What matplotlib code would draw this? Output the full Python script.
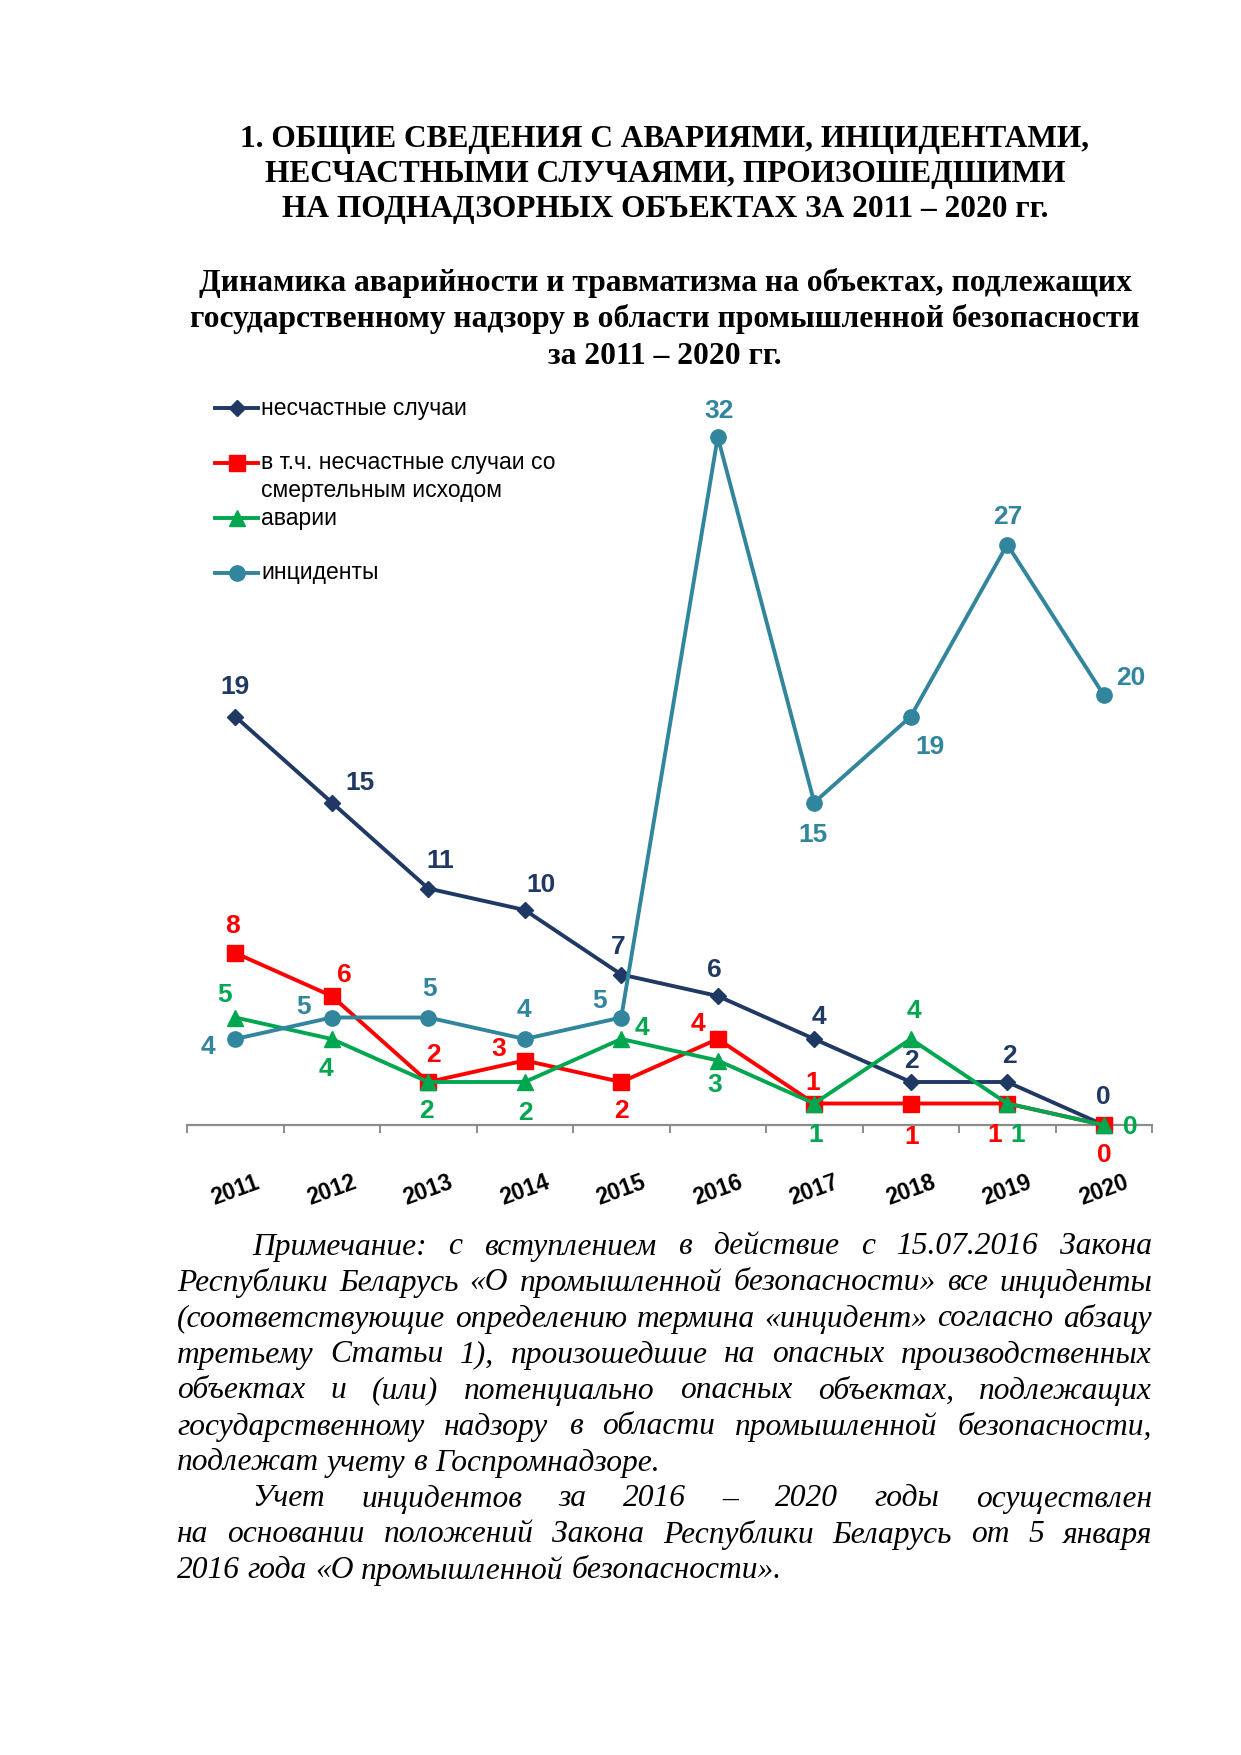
import numpy as np
import matplotlib
matplotlib.use("Agg")
import matplotlib.pyplot as plt
from matplotlib.lines import Line2D

# ---------------- data ----------------
years = ["2011", "2012", "2013", "2014", "2015", "2016", "2017", "2018", "2019", "2020"]
accidents_people = [19, 15, 11, 10, 7, 6, 4, 2, 2, 0]      # несчастные случаи
fatal = [8, 6, 2, 3, 2, 4, 1, 1, 1, 0]                      # со смертельным исходом
breakdowns = [5, 4, 2, 2, 4, 3, 1, 4, 1, 0]                 # аварии
incidents = [4, 5, 5, 4, 5, 32, 15, 19, 27, 20]             # инциденты

series_names = ["несчастные случаи",
                "в т.ч. несчастные случаи со\nсмертельным исходом",
                "аварии",
                "инциденты"]

# label offsets (pixels) – styling only
off_people = [(0, 30), (28, 20), (12, 27), (16, 25), (-3, 28), (-3, 26), (5, 22), (1, 21), (2, 26), (0, 28)]
off_fatal = [(-3, 27), (13, 21), (5, 27), (-26, 12), (0, -29), (-20, 15), (-2, 20), (1, -34), (-13, -31), (1, -30)]
off_break = [(-11, 23), (-6, -30), (-2, -29), (1, -31), (21, 11), (-3, -24), (1, -32), (3, 28), (10, -31), (27, -2)]
off_inc = [(-27, -8), (-28, 11), (1, 28), (-1, 29), (-22, 17), (1, 26), (-1, -32), (19, -30), (1, 28), (27, 17)]

W, H = 1241, 1755
fig = plt.figure(figsize=(W / 100, H / 100), dpi=100)
fig.patch.set_facecolor("white")

sans = ["Liberation Sans", "DejaVu Sans"]
serif = ["Liberation Serif", "DejaVu Serif"]

def fx(px):
    return px / W

def fy(py):
    return 1 - py / H

# ---------------- titles ----------------
title_lines = ["1. ОБЩИЕ СВЕДЕНИЯ С АВАРИЯМИ, ИНЦИДЕНТАМИ,",
               "НЕСЧАСТНЫМИ СЛУЧАЯМИ, ПРОИЗОШЕДШИМИ",
               "НА ПОДНАДЗОРНЫХ ОБЪЕКТАХ ЗА 2011 – 2020 гг."]
for i, t in enumerate(title_lines):
    fig.text(fx(665), fy(139 + 35.5 * i), t, ha="center", va="center",
             family=serif, fontweight="bold", fontsize=22.6)

sub_lines = ["Динамика аварийности и травматизма на объектах, подлежащих",
             "государственному надзору в области промышленной безопасности",
             "за 2011 – 2020 гг."]
for i, t in enumerate(sub_lines):
    fig.text(fx(665), fy(283 + 36.5 * i), t, ha="center", va="center",
             family=serif, fontweight="bold", fontsize=22.7)

# ---------------- chart ----------------
ax_left, ax_right, ax_zero, px_per_unit = 187, 1152, 1125, 21.5
ymax = 36
ax = fig.add_axes([fx(ax_left), (H - ax_zero) / H, (ax_right - ax_left) / W, ymax * px_per_unit / H])
ax.set_xlim(-0.5, len(years) - 0.5)
ax.set_ylim(0, ymax)
ax.patch.set_alpha(0)
for s in ["top", "right", "left"]:
    ax.spines[s].set_visible(False)
ax.spines["bottom"].set_color("#8c8c8c")
ax.spines["bottom"].set_linewidth(1.6)
ax.set_yticks([])

x = np.arange(len(years))
ax.set_xticks(np.arange(-0.5, len(years), 1.0))
ax.set_xticklabels([])
ax.tick_params(axis="x", which="major", length=6, width=1.4, color="#8c8c8c", direction="out")
ax.set_xticks(x, labels=years, minor=True)
ax.tick_params(axis="x", which="minor", length=0, pad=47)
for lab in ax.get_xticklabels(minor=True):
    lab.set_rotation(20)
    lab.set_rotation_mode("anchor")
    lab.set_ha("center")
    lab.set_va("center")
    lab.set_fontsize(16.5)
    lab.set_fontweight("bold")
    lab.set_family(sans)

c_navy = "#1F3864"
c_red = "#FF0000"
c_green = "#00A650"
c_teal = "#31859C"

specs = [
    (accidents_people, c_navy, "D", 8.5, off_people),
    (fatal, c_red, "s", 11, off_fatal),
    (breakdowns, c_green, "^", 11, off_break),
    (incidents, c_teal, "o", 11, off_inc),
]
lw = 2.8
order = [3, 0, 1, 2]
for k in order:
    vals, col, mk, ms, offs = specs[k]
    ax.plot(x, vals, color=col, lw=lw, marker=mk, markersize=ms, clip_on=False, zorder=3 + k)
for k in range(4):
    vals, col, mk, ms, offs = specs[k]
    for xi, v, (dx, dy) in zip(x, vals, offs):
        ax.annotate(str(v), (xi, v), xytext=(dx, dy), textcoords="offset pixels",
                    ha="center", va="center", color=col, fontsize=19,
                    fontweight="bold", family=sans, annotation_clip=False)

# ---------------- legend (manual) ----------------
leg_y = [408, 463, 518, 573]
for k in range(4):
    vals, col, mk, ms, offs = specs[k]
    yy = fy(leg_y[k])
    fig.add_artist(Line2D([fx(215), fx(258)], [yy, yy], color=col, lw=lw,
                          transform=fig.transFigure))
    fig.add_artist(Line2D([fx(236.5)], [yy], color=col, marker=mk, markersize=ms,
                          transform=fig.transFigure))
    lines = series_names[k].split("\n")
    for j, t in enumerate(lines):
        fig.text(fx(261), fy(leg_y[k] + 27 * j), t, ha="left", va="center",
                 family=sans, fontsize=16.5, color="black")

# ---------------- justified note ----------------
note_lines = [
    ("Примечание: с вступлением в действие с 15.07.2016 Закона", True, False),
    ("Республики Беларусь «О промышленной безопасности» все инциденты", False, False),
    ("(соответствующие определению термина «инцидент» согласно абзацу", False, False),
    ("третьему Статьи 1), произошедшие на опасных производственных", False, False),
    ("объектах и (или) потенциально опасных объектах, подлежащих", False, False),
    ("государственному надзору в области промышленной безопасности,", False, False),
    ("подлежат учету в Госпромнадзоре.", False, True),
    ("Учет инцидентов за 2016 – 2020 годы осуществлен", True, False),
    ("на основании положений Закона Республики Беларусь от 5 января", False, False),
    ("2016 года «О промышленной безопасности».", False, True),
]
left_px, right_px, indent_px = 177, 1152, 252
renderer = fig.canvas.get_renderer()
note_fs = 22.7
tmp1 = fig.text(0, 0, "a a", family=serif, style="italic", fontsize=note_fs)
tmp2 = fig.text(0, 0, "aa", family=serif, style="italic", fontsize=note_fs)
sw = tmp1.get_window_extent(renderer).width - tmp2.get_window_extent(renderer).width
tmp1.remove(); tmp2.remove()
for i, (line, indent, last) in enumerate(note_lines):
    ypx = 1247 + 36 * i
    words = line.split(" ")
    start = indent_px if indent else left_px
    fs = note_fs
    while True:
        texts = [fig.text(0, fy(ypx), w, ha="left", va="center", family=serif,
                          style="italic", fontsize=fs) for w in words]
        widths = [t.get_window_extent(renderer).width for t in texts]
        if last or sum(widths) + 0.6 * sw * (len(words) - 1) <= right_px - start:
            break
        for t in texts:
            t.remove()
        fs -= 0.3
    if last or len(words) == 1:
        gap = sw
    else:
        gap = (right_px - start - sum(widths)) / (len(words) - 1)
    pos = start
    for t, wdt in zip(texts, widths):
        t.set_x(fx(pos))
        pos += wdt + gap

fig.savefig("out.png", dpi=100, facecolor="white")
